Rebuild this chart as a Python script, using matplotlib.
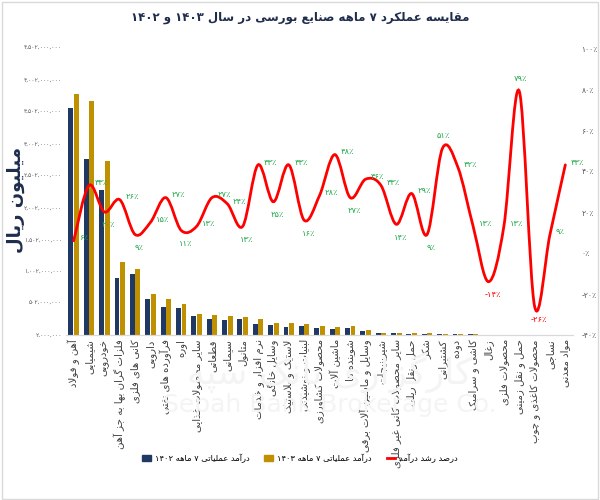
#!/usr/bin/env python
# 7-month operating revenue of TSE industries, 1402 vs 1403, with growth line.
import re
import numpy as np, matplotlib
matplotlib.use("Agg")
import matplotlib.pyplot as plt
from matplotlib.path import Path
from matplotlib.patches import PathPatch, Rectangle
from matplotlib.lines import Line2D

categories = [
    "آهن و فولاد", "شیمیایی", "خودرویی", "فلزات گران بها به جز آهن",
    "کانی های فلزی", "دارویی", "فرآورده های نفتی", "اوره",
    "سایر محصولات غذایی", "قطعاتی", "سیمانی", "متانول",
    "نرم افزار و خدمات", "وسایل خانگی", "لاستیک و پلاستیک", "لبنیات و نوشیدنی",
    "محصولات کشاورزی", "ماشین آلات", "شوینده ها", "وسایل و ماشین آلات برقی",
    "شیرینیجات", "سایر محصولات کانی غیر فلزی", "حمل ونقل ریلی", "شکر",
    "کشتیرانی", "دوده", "کاشی و سرامیک", "زغال",
    "محصولات فلزی", "حمل و نقل زمینی", "محصولات کاغذی و چوب", "نساجی",
    "مواد معدنی",
]
rev_1402 = [3554, 2756, 2268, 893, 955, 560, 446, 430, 295, 245, 240, 255,
            178, 155, 128, 143, 110, 88, 110, 60, 27, 25, 22, 22,
            10, 9, 9, 7, 5, 3, 6, 2, 1]
rev_1403 = [3780, 3675, 2730, 1139, 1039, 645, 572, 483, 333, 312, 298, 288,
            255, 194, 183, 166, 141, 130, 140, 82, 36, 29, 28, 24,
            15, 13, 10, 6, 5.6, 5.4, 4.4, 2.2, 1.4]
growth = [6, 33, 20, 26, 9, 15, 27, 11, 13, 27, 24, 13, 43, 25, 43, 16,
          28, 48, 27, 36, 33, 14, 29, 9, 51, 42, 13, -14, 13, 79, -26, 9, 43]

left_ticks = [0, 500, 1000, 1500, 2000, 2500, 3000, 3500, 4000, 4500]
left_tick_labels = ["۲,۰۰۰,۰۰۰", "۵۰۲,۰۰۰,۰۰۰", "۱,۰۰۲,۰۰۰,۰۰۰", "۱,۵۰۲,۰۰۰,۰۰۰",
                    "۲,۰۰۲,۰۰۰,۰۰۰", "۲,۵۰۲,۰۰۰,۰۰۰", "۳,۰۰۲,۰۰۰,۰۰۰",
                    "۳,۵۰۲,۰۰۰,۰۰۰", "۴,۰۰۲,۰۰۰,۰۰۰", "۴,۵۰۲,۰۰۰,۰۰۰"]
right_ticks = [-40, -20, 0, 20, 40, 60, 80, 100]

title = "مقایسه عملکرد ۷ ماهه صنایع بورسی در سال ۱۴۰۳ و ۱۴۰۲"
ylabel = "میلیون ریال"
legend_labels = ["درآمد عملیاتی ۷ ماهه ۱۴۰۲", "درآمد عملیاتی ۷ ماهه ۱۴۰۳", "درصد رشد درآمد"]

NAVY, GOLD, RED, GREEN = "#1f3864", "#bf9000", "#ff0000", "#22a84a"

# --- minimal persian shaping (matplotlib has no complex text layout) ---
FORMS = {
    'ا': ('\uFE8D', '\uFE8E', None, None), 'آ': ('\uFE81', '\uFE82', None, None),
    'ب': ('\uFE8F', '\uFE90', '\uFE91', '\uFE92'), 'پ': ('\uFB56', '\uFB57', '\uFB58', '\uFB59'),
    'ت': ('\uFE95', '\uFE96', '\uFE97', '\uFE98'), 'ث': ('\uFE99', '\uFE9A', '\uFE9B', '\uFE9C'),
    'ج': ('\uFE9D', '\uFE9E', '\uFE9F', '\uFEA0'), 'چ': ('\uFB7A', '\uFB7B', '\uFB7C', '\uFB7D'),
    'ح': ('\uFEA1', '\uFEA2', '\uFEA3', '\uFEA4'), 'خ': ('\uFEA5', '\uFEA6', '\uFEA7', '\uFEA8'),
    'د': ('\uFEA9', '\uFEAA', None, None), 'ذ': ('\uFEAB', '\uFEAC', None, None),
    'ر': ('\uFEAD', '\uFEAE', None, None), 'ز': ('\uFEAF', '\uFEB0', None, None),
    'ژ': ('\uFB8A', '\uFB8B', None, None),
    'س': ('\uFEB1', '\uFEB2', '\uFEB3', '\uFEB4'), 'ش': ('\uFEB5', '\uFEB6', '\uFEB7', '\uFEB8'),
    'ص': ('\uFEB9', '\uFEBA', '\uFEBB', '\uFEBC'), 'ض': ('\uFEBD', '\uFEBE', '\uFEBF', '\uFEC0'),
    'ط': ('\uFEC1', '\uFEC2', '\uFEC3', '\uFEC4'), 'ظ': ('\uFEC5', '\uFEC6', '\uFEC7', '\uFEC8'),
    'ع': ('\uFEC9', '\uFECA', '\uFECB', '\uFECC'), 'غ': ('\uFECD', '\uFECE', '\uFECF', '\uFED0'),
    'ف': ('\uFED1', '\uFED2', '\uFED3', '\uFED4'), 'ق': ('\uFED5', '\uFED6', '\uFED7', '\uFED8'),
    'ک': ('\uFB8E', '\uFB8F', '\uFB90', '\uFB91'), 'گ': ('\uFB92', '\uFB93', '\uFB94', '\uFB95'),
    'ل': ('\uFEDD', '\uFEDE', '\uFEDF', '\uFEE0'), 'م': ('\uFEE1', '\uFEE2', '\uFEE3', '\uFEE4'),
    'ن': ('\uFEE5', '\uFEE6', '\uFEE7', '\uFEE8'), 'ه': ('\uFEE9', '\uFEEA', '\uFEEB', '\uFEEC'),
    'و': ('\uFEED', '\uFEEE', None, None), 'ی': ('\uFBFC', '\uFBFD', '\uFBFE', '\uFBFF'),
}
LAMALEF = {'ا': ('\uFEFB', '\uFEFC'), 'آ': ('\uFEF5', '\uFEF6')}


def shape(s):
    s = s.replace('ي', 'ی').replace('ك', 'ک')
    dual = lambda c: c in FORMS and FORMS[c][2] is not None
    out, i, n = [], 0, len(s)
    while i < n:
        c = s[i]
        if c not in FORMS:
            out.append(c); i += 1; continue
        pj = i > 0 and dual(s[i-1])
        if c == 'ل' and i+1 < n and s[i+1] in LAMALEF:
            out.append(LAMALEF[s[i+1]][1 if pj else 0]); i += 2; continue
        nj = dual(c) and i+1 < n and s[i+1] in FORMS
        f = FORMS[c]
        out.append(f[3] if pj and nj else f[1] if pj else f[2] if nj else f[0])
        i += 1
    return ''.join(out)


def fa(s):
    t = shape(s)
    parts = re.findall(r'[0-9۰-۹][0-9۰-۹٪,.]*|[^0-9۰-۹]+', t)
    return ''.join(p if re.match(r'[0-9۰-۹]', p) else p[::-1] for p in reversed(parts))


def fa_num(v):
    return str(v).translate(str.maketrans("0123456789", "۰۱۲۳۴۵۶۷۸۹"))


plt.rcParams['font.family'] = ['DejaVu Sans']

fig = plt.figure(figsize=(6, 5), dpi=100)
ax = fig.add_axes([0.11, 0.33, 0.845, 0.574])
ax2 = ax.twinx()

x = np.arange(len(categories))
w = 0.32
ax.bar(x - 0.18, rev_1402, w, color=NAVY, zorder=2)
ax.bar(x + 0.18, rev_1403, w, color=GOLD, zorder=2)
ax.set_xlim(-0.5, len(categories) - 0.5)
ax.set_ylim(0, 4500)
ax.set_yticks(left_ticks)
ax.set_yticklabels(left_tick_labels, fontsize=4.3, color="#595959")
ax.set_xticks(x)
ax.set_xticklabels([fa(c) for c in categories], rotation=90, ha="center", va="top",
                   fontsize=7.3, color="#404040")
ax.tick_params(length=0, pad=3)

ax2.set_ylim(-40, 100)
ax2.set_yticks(right_ticks)
ax2.set_yticklabels([fa_num(abs(t)) + "٪" if t >= 0 else "-" + fa_num(abs(t)) + "٪"
                     for t in right_ticks], fontsize=5.5, color="#595959")
ax2.tick_params(length=0, pad=6)

for a in (ax, ax2):
    for s in ("top", "left", "right"):
        a.spines[s].set_visible(False)
    a.spines["bottom"].set_color("#d9d9d9")

# smoothed growth line (Catmull-Rom as cubic bezier through the points)
pts = np.column_stack([x, growth]).astype(float)
n = len(pts)
verts, codes = [tuple(pts[0])], [Path.MOVETO]
for i in range(n - 1):
    p0, p1, p2, p3 = pts[max(i-1, 0)], pts[i], pts[i+1], pts[min(i+2, n-1)]
    verts += [tuple(p1 + (p2 - p0) / 6), tuple(p2 - (p3 - p1) / 6), tuple(p2)]
    codes += [Path.CURVE4] * 3
ax2.add_patch(PathPatch(Path(verts, codes), facecolor="none", edgecolor=RED,
                        lw=2.0, zorder=3, capstyle="round"))

for i, g in enumerate(growth):
    prev = growth[i-1] if i > 0 else g
    nxt = growth[i+1] if i < n - 1 else g
    txt = (fa_num(g) if g >= 0 else "-" + fa_num(-g)) + "٪"
    col = GREEN if g >= 0 else RED
    if g < prev and g < nxt:
        off, ha, va = (3, -6), "center", "top"
    elif g > prev and g > nxt and g > 50:
        off, ha, va = (1, 6), "center", "bottom"
    else:
        off, ha, va = (4, 2), "left", "center"
    ax2.annotate(txt, (i, g), xytext=off, textcoords="offset points",
                 ha=ha, va=va, fontsize=6, color=col, zorder=4)

fig.text(0.5, 1 - 18/500, fa(title), ha="center", va="center", fontsize=8.5,
         fontweight="bold", color="#1f2d4d")
fig.text(0.026, 1 - 200/500, fa(ylabel), rotation=90, ha="center", va="center",
         fontsize=13, fontweight="bold", color="#1f2d4d")

# faint watermark
fig.text(0.55, 1 - 372/500, fa("کارگزاری بانک سپه"), ha="center", va="center",
         fontsize=26, color="#f4f4f4", zorder=0)
fig.text(0.55, 1 - 405/500, "Sepah Bank Brokerage Co.", ha="center", va="center",
         fontsize=18, color="#f4f4f4", zorder=0)

handles = [Rectangle((0, 0), 1, 1, color=NAVY), Rectangle((0, 0), 1, 1, color=GOLD),
           Line2D([], [], color=RED, lw=2)]
fig.legend(handles, [fa(l) for l in legend_labels], loc="center", ncol=3,
           bbox_to_anchor=(0.5, 1 - 458/500), frameon=False, fontsize=6,
           handlelength=1.0, handleheight=0.8, columnspacing=1.8, handletextpad=0.5)

fig.patches.append(Rectangle((0.003, 0.003), 0.994, 0.994, transform=fig.transFigure,
                             fill=False, edgecolor="#d9d9d9", lw=1))

fig.savefig("out.png", dpi=100)
